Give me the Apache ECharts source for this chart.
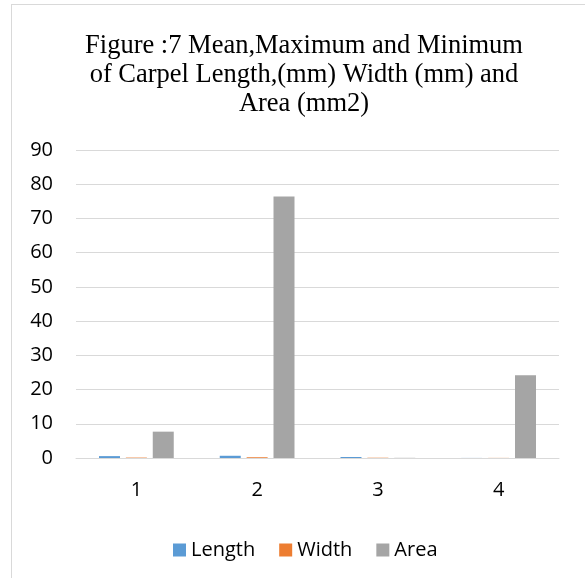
<!DOCTYPE html>
<html><head><meta charset="utf-8">
<script src="https://cdn.jsdelivr.net/npm/echarts@6/dist/echarts.min.js"></script>
<style>html,body{margin:0;padding:0;background:#fff}#c{width:585px;height:578px}</style>
</head><body><div id="c"></div>
<script>
var categories = ['1', '2', '3', '4'];
var lengthVals = [0.55, 0.65, 0.3, 0.02];
var widthVals = [0.12, 0.22, 0.08, 0.03];
var areaVals = [7.7, 76.4, 0.05, 24.2];
var yTicks = { min: 0, max: 90, interval: 10 };

var chart = echarts.init(document.getElementById('c'));
chart.setOption({
  animation: false,
  backgroundColor: '#fff',
  title: {
    text: 'Figure :7 Mean,Maximum and Minimum\nof Carpel Length,(mm) Width (mm) and\nArea (mm2)',
    left: 299, top: 27, textAlign: 'center',
    textStyle: { fontFamily: 'Liberation Serif', fontSize: 26.5, fontWeight: 'normal', color: '#000', lineHeight: 29 }
  },
  graphic: [
    { type: 'line', shape: { x1: 11.5, y1: 4, x2: 11.5, y2: 578 }, style: { stroke: '#d9d9d9', lineWidth: 1 } },
    { type: 'line', shape: { x1: 11, y1: 4.5, x2: 585, y2: 4.5 }, style: { stroke: '#d9d9d9', lineWidth: 1 } }
  ],
  legend: {
    data: ['Length', 'Width', 'Area'],
    left: 168, top: 535,
    itemWidth: 13, itemHeight: 13, itemGap: 24, icon: 'rect',
    textStyle: { fontFamily: 'Open Sans', fontSize: 20, color: '#000', padding: [0, 0, 0, 0] }
  },
  grid: { left: 76, right: 26, top: 150, bottom: 120 },
  xAxis: {
    type: 'category', data: categories,
    axisLine: { lineStyle: { color: '#d9d9d9', width: 1 } },
    axisTick: { show: false },
    axisLabel: { fontFamily: 'Open Sans', fontSize: 20, color: '#000', margin: 22 }
  },
  yAxis: {
    type: 'value', min: yTicks.min, max: yTicks.max, interval: yTicks.interval,
    axisLine: { show: false }, axisTick: { show: false },
    splitLine: { lineStyle: { color: '#d9d9d9', width: 1 } },
    axisLabel: { fontFamily: 'Open Sans', fontSize: 20, color: '#000', margin: 23 }
  },
  series: [
    { name: 'Length', type: 'bar', data: lengthVals, barWidth: 21, barGap: '28%', barCategoryGap: '38%', itemStyle: { color: '#5b9bd5' } },
    { name: 'Width', type: 'bar', data: widthVals, barWidth: 21, barGap: '28%', itemStyle: { color: '#ed7d31' } },
    { name: 'Area', type: 'bar', data: areaVals, barWidth: 21, barGap: '28%', itemStyle: { color: '#a5a5a5' } }
  ]
});
</script></body></html>
